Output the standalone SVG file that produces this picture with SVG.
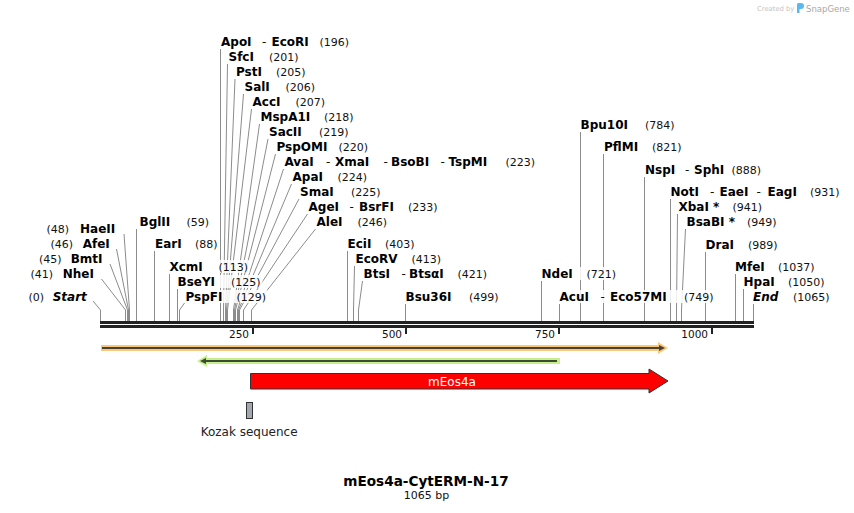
<svg xmlns="http://www.w3.org/2000/svg" width="854" height="513" viewBox="0 0 854 513">
<style>
text{font-family:"DejaVu Sans",Verdana,sans-serif}
.n{font-weight:bold;font-size:12px;fill:#000}
.ni{font-weight:bold;font-style:italic;font-size:12px;fill:#000}
.c{font-size:11px;fill:#111}
.d{font-size:12px;fill:#111}
.bg{fill:#fff;fill-opacity:0.85}
.ln{stroke:#8c8c8c;stroke-width:1;fill:none}
.ax{font-size:10.5px;fill:#111}
</style>
<rect width="854" height="513" fill="#fff"/>

<g id="connectors">
<polyline class="ln" points="220.5,49 220.5,321"/>
<polyline class="ln" points="227.5,64 223.5,310 223.5,321"/>
<polyline class="ln" points="235,79 225.5,310 225.5,321"/>
<polyline class="ln" points="243.5,94 226.5,310 226.5,321"/>
<polyline class="ln" points="251.5,109 227.5,310 227.5,321"/>
<polyline class="ln" points="259.5,124 233.5,310 233.5,321"/>
<polyline class="ln" points="268,139 234.5,310 234.5,321"/>
<polyline class="ln" points="275.5,154 235.5,310 235.5,321"/>
<polyline class="ln" points="283.5,169 237.5,310 237.5,321"/>
<polyline class="ln" points="291.5,184 238.5,310 238.5,321"/>
<polyline class="ln" points="299,199 239.5,310 239.5,321"/>
<polyline class="ln" points="307.5,214 243.5,310 243.5,321"/>
<polyline class="ln" points="315.5,229 251.5,310 251.5,321"/>
<polyline class="ln" points="347.5,251 347.5,321"/>
<polyline class="ln" points="354.5,266 353.5,310 353.5,321"/>
<polyline class="ln" points="362.5,281 358.5,310 358.5,321"/>
<polyline class="ln" points="405.5,304 405.5,321"/>
<polyline class="ln" points="136.5,229 136.5,321"/>
<polyline class="ln" points="154.5,251 154.5,321"/>
<polyline class="ln" points="169.5,274 169.5,321"/>
<polyline class="ln" points="177.5,289 177.5,321"/>
<polyline class="ln" points="184.5,303 179.5,310 179.5,321"/>
<polyline class="ln" points="541.5,281 541.5,321"/>
<polyline class="ln" points="559.5,304 559.5,321"/>
<polyline class="ln" points="580.5,132 580.5,321"/>
<polyline class="ln" points="603.5,154 603.5,321"/>
<polyline class="ln" points="644.5,177 644.5,321"/>
<polyline class="ln" points="670.5,199 670.5,321"/>
<polyline class="ln" points="677.5,214 676.5,310 676.5,321"/>
<polyline class="ln" points="685.5,229 681.5,310 681.5,321"/>
<polyline class="ln" points="705.5,252 705.5,321"/>
<polyline class="ln" points="735.5,274 735.5,321"/>
<polyline class="ln" points="743.5,289 743.5,321"/>
<polyline class="ln" points="753.5,304 753.5,321"/>
<polyline class="ln" points="93,301 100.5,310 100.5,321"/>
<polyline class="ln" points="101.5,279 125.5,310 125.5,321"/>
<polyline class="ln" points="110,264 127.5,310 127.5,321"/>
<polyline class="ln" points="116.5,249 128.5,310 128.5,321"/>
<polyline class="ln" points="124,234 129.5,310 129.5,321"/>
</g>

<g id="backbone">
<rect x="100" y="321" width="654" height="3" fill="#222"/>
<rect x="100" y="325" width="654" height="3" fill="#222"/>
<rect x="252" y="328" width="2" height="6" fill="#222"/>
<rect x="405" y="328" width="2" height="6" fill="#222"/>
<rect x="558" y="328" width="2" height="6" fill="#222"/>
<rect x="711" y="328" width="2" height="6" fill="#222"/>
<text class="ax" x="249" y="337.5" text-anchor="end">250</text>
<text class="ax" x="402" y="337.5" text-anchor="end">500</text>
<text class="ax" x="555" y="337.5" text-anchor="end">750</text>
<text class="ax" x="708" y="337.5" text-anchor="end">1000</text>
</g>

<g id="enz-ApoI"><rect class="bg" x="219" y="35" width="132" height="13"/><text y="46"><tspan class="n" x="221">ApoI</tspan><tspan class="d" x="262">-</tspan><tspan class="n" x="271.5">EcoRI</tspan><tspan class="c" x="319.5">(196)</tspan></text></g>
<g id="enz-SfcI"><rect class="bg" x="226.5" y="50" width="74" height="13"/><text y="61"><tspan class="n" x="228.5">SfcI</tspan><tspan class="c" x="269">(201)</tspan></text></g>
<g id="enz-PstI"><rect class="bg" x="234" y="65" width="73" height="13"/><text y="76"><tspan class="n" x="236">PstI</tspan><tspan class="c" x="276">(205)</tspan></text></g>
<g id="enz-SalI"><rect class="bg" x="242.5" y="80" width="74" height="13"/><text y="91"><tspan class="n" x="244.5">SalI</tspan><tspan class="c" x="285.5">(206)</tspan></text></g>
<g id="enz-AccI"><rect class="bg" x="250.5" y="95" width="76" height="13"/><text y="106"><tspan class="n" x="252.5">AccI</tspan><tspan class="c" x="295.5">(207)</tspan></text></g>
<g id="enz-MspA1I"><rect class="bg" x="258.5" y="110" width="97" height="13"/><text y="121"><tspan class="n" x="260.5">MspA1I</tspan><tspan class="c" x="324">(218)</tspan></text></g>
<g id="enz-SacII"><rect class="bg" x="267" y="125" width="83" height="13"/><text y="136"><tspan class="n" x="269">SacII</tspan><tspan class="c" x="319">(219)</tspan></text></g>
<g id="enz-PspOMI"><rect class="bg" x="274.5" y="140" width="95" height="13"/><text y="151"><tspan class="n" x="276.5">PspOMI</tspan><tspan class="c" x="338.5">(220)</tspan></text></g>
<g id="enz-AvaI"><rect class="bg" x="282.5" y="155" width="254" height="13"/><text y="166"><tspan class="n" x="284.5">AvaI</tspan><tspan class="d" x="326">-</tspan><tspan class="n" x="335">XmaI</tspan><tspan class="d" x="383.5">-</tspan><tspan class="n" x="391">BsoBI</tspan><tspan class="d" x="440.5">-</tspan><tspan class="n" x="448.5">TspMI</tspan><tspan class="c" x="505.5">(223)</tspan></text></g>
<g id="enz-ApaI"><rect class="bg" x="290.5" y="170" width="78" height="13"/><text y="181"><tspan class="n" x="292.5">ApaI</tspan><tspan class="c" x="337.5">(224)</tspan></text></g>
<g id="enz-SmaI"><rect class="bg" x="298" y="185" width="84" height="13"/><text y="196"><tspan class="n" x="300">SmaI</tspan><tspan class="c" x="351">(225)</tspan></text></g>
<g id="enz-AgeI"><rect class="bg" x="306.5" y="200" width="133" height="13"/><text y="211"><tspan class="n" x="308.5">AgeI</tspan><tspan class="d" x="349.5">-</tspan><tspan class="n" x="359">BsrFI</tspan><tspan class="c" x="408">(233)</tspan></text></g>
<g id="enz-AleI"><rect class="bg" x="314.5" y="215" width="74" height="13"/><text y="226"><tspan class="n" x="316.5">AleI</tspan><tspan class="c" x="357.5">(246)</tspan></text></g>
<g id="enz-EciI"><rect class="bg" x="345.5" y="237" width="71" height="13"/><text y="248"><tspan class="n" x="347.5">EciI</tspan><tspan class="c" x="385">(403)</tspan></text></g>
<g id="enz-EcoRV"><rect class="bg" x="353.5" y="252" width="89" height="13"/><text y="263"><tspan class="n" x="355.5">EcoRV</tspan><tspan class="c" x="411.5">(413)</tspan></text></g>
<g id="enz-BtsI"><rect class="bg" x="361.5" y="267" width="127" height="13"/><text y="278"><tspan class="n" x="363.5">BtsI</tspan><tspan class="d" x="401.5">-</tspan><tspan class="n" x="409">BtsαI</tspan><tspan class="c" x="457.5">(421)</tspan></text></g>
<g id="enz-Bsu36I"><rect class="bg" x="403.5" y="290" width="97" height="13"/><text y="301"><tspan class="n" x="405.5">Bsu36I</tspan><tspan class="c" x="469">(499)</tspan></text></g>
<g id="enz-BglII"><rect class="bg" x="137.5" y="215" width="73" height="13"/><text y="226"><tspan class="n" x="139.5">BglII</tspan><tspan class="c" x="186.5">(59)</tspan></text></g>
<g id="enz-EarI"><rect class="bg" x="153" y="237" width="66" height="13"/><text y="248"><tspan class="n" x="155">EarI</tspan><tspan class="c" x="195">(88)</tspan></text></g>
<g id="enz-XcmI"><rect class="bg" x="167.5" y="260" width="82" height="13"/><text y="271"><tspan class="n" x="169.5">XcmI</tspan><tspan class="c" x="218.5">(113)</tspan></text></g>
<g id="enz-BseYI"><rect class="bg" x="175.5" y="275" width="87" height="13"/><text y="286"><tspan class="n" x="177.5">BseYI</tspan><tspan class="c" x="231">(125)</tspan></text></g>
<g id="enz-PspFI"><rect class="bg" x="183.5" y="290" width="84" height="13"/><text y="301"><tspan class="n" x="185.5">PspFI</tspan><tspan class="c" x="236.5">(129)</tspan></text></g>
<g id="enz-NdeI"><rect class="bg" x="539.5" y="267" width="78" height="13"/><text y="278"><tspan class="n" x="541.5">NdeI</tspan><tspan class="c" x="586.5">(721)</tspan></text></g>
<g id="enz-AcuI"><rect class="bg" x="557.5" y="290" width="158" height="13"/><text y="301"><tspan class="n" x="559.5">AcuI</tspan><tspan class="d" x="600.5">-</tspan><tspan class="n" x="610">Eco57MI</tspan><tspan class="c" x="684">(749)</tspan></text></g>
<g id="enz-Bpu10I"><rect class="bg" x="578.5" y="118" width="98" height="13"/><text y="129"><tspan class="n" x="580.5">Bpu10I</tspan><tspan class="c" x="645">(784)</tspan></text></g>
<g id="enz-PflMI"><rect class="bg" x="602" y="140" width="81" height="13"/><text y="151"><tspan class="n" x="604">PflMI</tspan><tspan class="c" x="652">(821)</tspan></text></g>
<g id="enz-NspI"><rect class="bg" x="643" y="163" width="120" height="13"/><text y="174"><tspan class="n" x="645">NspI</tspan><tspan class="d" x="685">-</tspan><tspan class="n" x="694">SphI</tspan><tspan class="c" x="731.5">(888)</tspan></text></g>
<g id="enz-NotI"><rect class="bg" x="668.5" y="185" width="173" height="13"/><text y="196"><tspan class="n" x="670.5">NotI</tspan><tspan class="d" x="710">-</tspan><tspan class="n" x="719.5">EaeI</tspan><tspan class="d" x="756.5">-</tspan><tspan class="n" x="767.5">EagI</tspan><tspan class="c" x="810">(931)</tspan></text></g>
<g id="enz-XbaI"><rect class="bg" x="676.5" y="200" width="87" height="13"/><text y="211"><tspan class="n" x="678.5">XbaI *</tspan><tspan class="c" x="732.5">(941)</tspan></text></g>
<g id="enz-BsaBI"><rect class="bg" x="684.5" y="215" width="94" height="13"/><text y="226"><tspan class="n" x="686.5">BsaBI *</tspan><tspan class="c" x="747">(949)</tspan></text></g>
<g id="enz-DraI"><rect class="bg" x="703.5" y="238" width="76" height="13"/><text y="249"><tspan class="n" x="705.5">DraI</tspan><tspan class="c" x="748">(989)</tspan></text></g>
<g id="enz-MfeI"><rect class="bg" x="733" y="260" width="83" height="13"/><text y="271"><tspan class="n" x="735">MfeI</tspan><tspan class="c" x="778">(1037)</tspan></text></g>
<g id="enz-HpaI"><rect class="bg" x="741.5" y="275" width="85" height="13"/><text y="286"><tspan class="n" x="743.5">HpaI</tspan><tspan class="c" x="788">(1050)</tspan></text></g>
<g id="enz-End"><rect class="bg" x="751" y="290" width="80" height="13"/><text y="301"><tspan class="ni" x="753">End</tspan><tspan class="c" x="793">(1065)</tspan></text></g>
<g id="enz-Start"><rect class="bg" x="26.5" y="290" width="61" height="13"/><text y="301"><tspan class="c" x="28.5">(0)</tspan><tspan class="ni" x="52.7">Start</tspan></text></g>
<g id="enz-NheI"><rect class="bg" x="28.5" y="267" width="68" height="13"/><text y="278"><tspan class="c" x="30.5">(41)</tspan><tspan class="n" x="62.7">NheI</tspan></text></g>
<g id="enz-BmtI"><rect class="bg" x="37" y="252" width="69" height="13"/><text y="263"><tspan class="c" x="39">(45)</tspan><tspan class="n" x="70.7">BmtI</tspan></text></g>
<g id="enz-AfeI"><rect class="bg" x="48.5" y="237" width="64" height="13"/><text y="248"><tspan class="c" x="50.5">(46)</tspan><tspan class="n" x="82.7">AfeI</tspan></text></g>
<g id="enz-HaeII"><rect class="bg" x="44.5" y="222" width="76" height="13"/><text y="233"><tspan class="c" x="46.5">(48)</tspan><tspan class="n" x="80">HaeII</tspan></text></g>

<g id="feature-orange">
<rect x="101" y="345" width="559" height="6" fill="#f9c87a"/>
<polygon points="658,342 668,348 658,354" fill="#f9c87a"/>
<line x1="102" y1="348" x2="660" y2="348" stroke="#4b4235" stroke-width="2"/>
<polygon points="659,345 665,348 659,351" fill="#4b4235"/>
</g>
<g id="feature-green">
<rect x="203" y="358" width="357" height="6" fill="#c5f08c"/>
<polygon points="207,355 197,361 207,367" fill="#c5f08c"/>
<line x1="203" y1="361" x2="557" y2="361" stroke="#3d4a35" stroke-width="2"/>
<polygon points="206,358 200,361 206,364" fill="#3d4a35"/>
</g>
<g id="feature-mEos4a">
<polygon points="250.5,373.5 649,373.5 649,369 668,381 649,393 649,389 250.5,389" fill="#ff0000" stroke="#333" stroke-width="1"/>
<text x="452" y="385.5" text-anchor="middle" font-size="12" fill="#fff">mEos4a</text>
</g>
<g id="feature-kozak">
<rect x="246.5" y="402.5" width="6" height="16" fill="#a3a7b0" stroke="#333" stroke-width="1"/>
<text x="200.7" y="436" font-size="12" fill="#222">Kozak sequence</text>
</g>

<g id="title">
<text x="426" y="486" text-anchor="middle" font-size="13.6" font-weight="bold" fill="#000">mEos4a-CytERM-N-17</text>
<text x="426.5" y="498.5" text-anchor="middle" font-size="11" fill="#111">1065 bp</text>
</g>

<g id="credit">
<text x="757" y="11" font-size="6.8" fill="#c4c4c4">Created by</text>
<path d="M797,13 L797,4.5 Q797,3 798.5,3 L801,3 Q804,3 804,6 Q804,9 801,9 L799.5,9 L799.5,13 Z" fill="#5bb8ea"/>
<text x="806" y="11.5" font-size="8.5" fill="#a8a8a8">SnapGene</text>
</g>
</svg>
